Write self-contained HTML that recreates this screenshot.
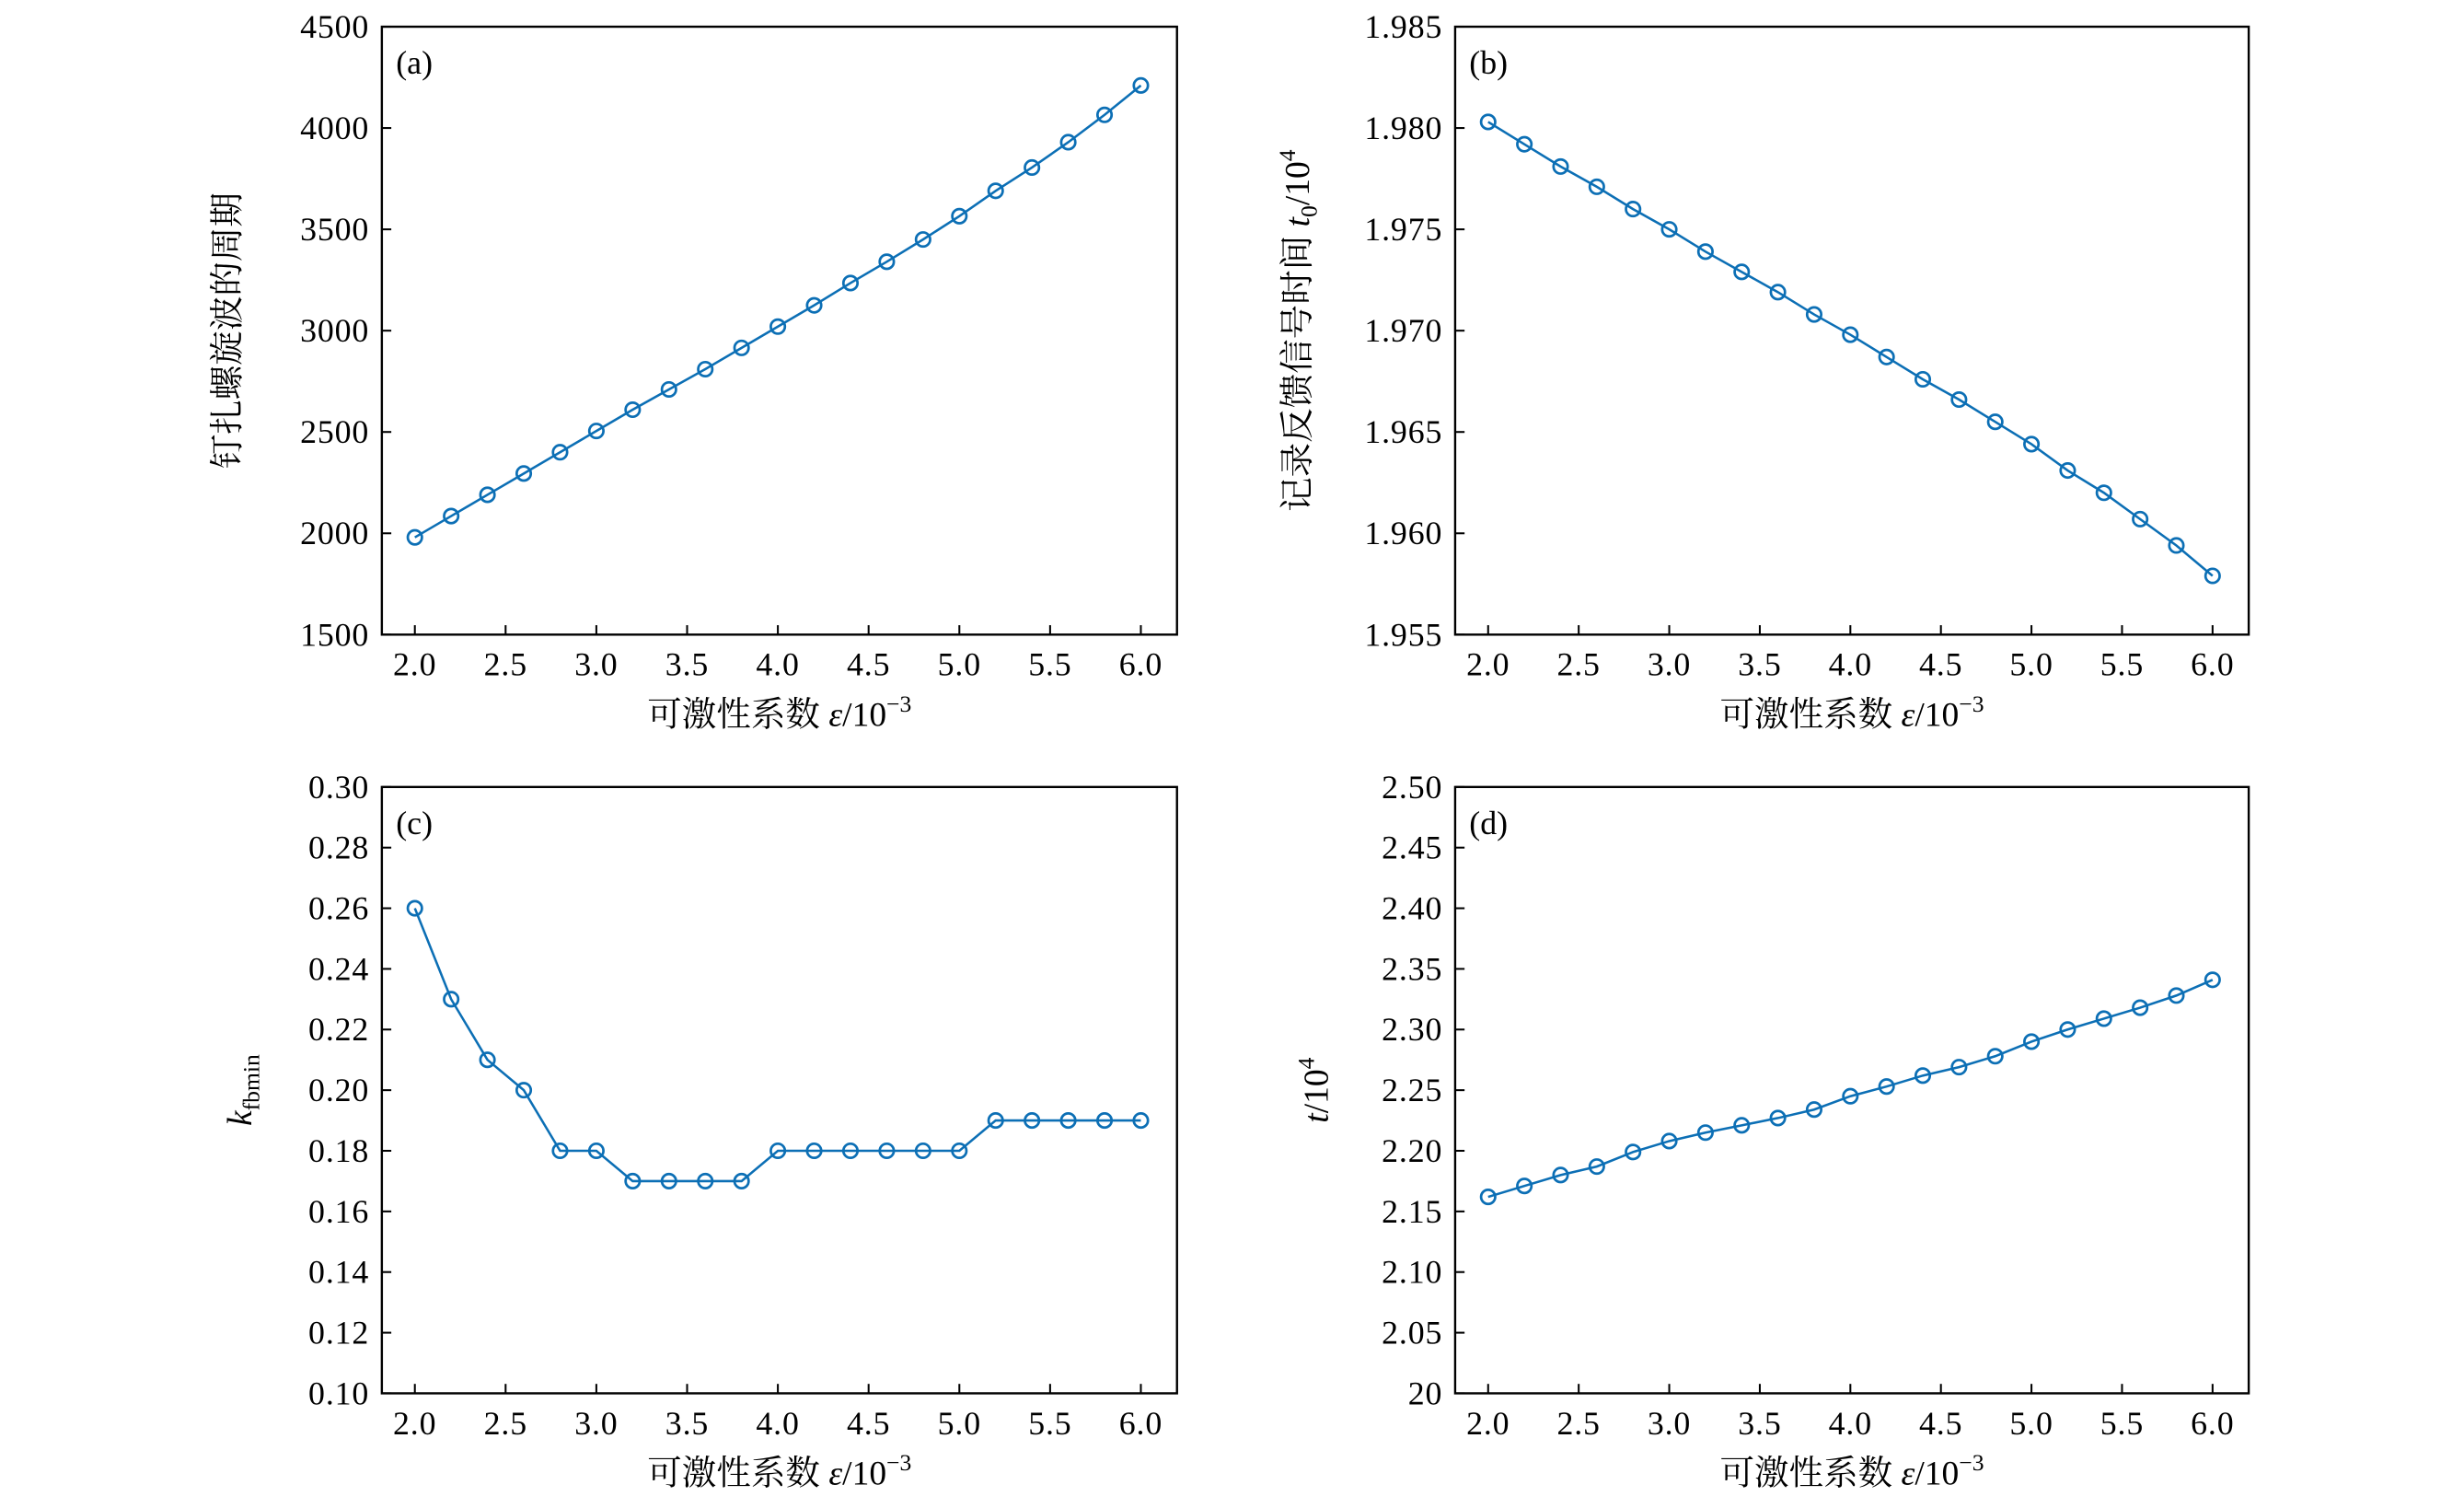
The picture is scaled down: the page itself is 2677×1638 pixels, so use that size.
<!DOCTYPE html>
<html><head><meta charset="utf-8"><style>
html,body{margin:0;padding:0;background:#fff;}
svg{display:block;}
text{font-family:"Liberation Serif","Noto Serif CJK SC",serif;fill:#000;}
</style></head><body>
<svg id="fig" width="2677" height="1638" viewBox="0 0 1568 960" preserveAspectRatio="none" xmlns="http://www.w3.org/2000/svg"></svg>
<script>
const xsValues = [2.0,2.2,2.4,2.6,2.8,3.0,3.2,3.4,3.6,3.8,4.0,4.2,4.4,4.6,4.8,5.0,5.2,5.4,5.6,5.8,6.0];
const xTicks = [2.0,2.5,3.0,3.5,4.0,4.5,5.0,5.5,6.0];
const xTickLabels = ["2.0","2.5","3.0","3.5","4.0","4.5","5.0","5.5","6.0"];
const seriesA = [1980,2085,2190,2295,2400,2505,2610,2710,2810,2915,3020,3125,3235,3340,3450,3565,3690,3805,3930,4065,4210];
const seriesB = [1.9803,1.9792,1.9781,1.9771,1.9760,1.9750,1.9739,1.9729,1.9719,1.9708,1.9698,1.9687,1.9676,1.9666,1.9655,1.9644,1.9631,1.9620,1.9607,1.9594,1.9579];
const seriesC = [0.26,0.23,0.21,0.20,0.18,0.18,0.17,0.17,0.17,0.17,0.18,0.18,0.18,0.18,0.18,0.18,0.19,0.19,0.19,0.19,0.19];
const seriesD = [2.162,2.171,2.180,2.187,2.199,2.208,2.215,2.221,2.227,2.234,2.245,2.253,2.262,2.269,2.278,2.290,2.300,2.309,2.318,2.328,2.341];
const yTicksA = [1500,2000,2500,3000,3500,4000,4500];
const yLabelsA = ["1500","2000","2500","3000","3500","4000","4500"];
const yTicksB = [1.955,1.960,1.965,1.970,1.975,1.980,1.985];
const yLabelsB = ["1.955","1.960","1.965","1.970","1.975","1.980","1.985"];
const yTicksC = [0.10,0.12,0.14,0.16,0.18,0.20,0.22,0.24,0.26,0.28,0.30];
const yLabelsC = ["0.10","0.12","0.14","0.16","0.18","0.20","0.22","0.24","0.26","0.28","0.30"];
const yTicksD = [2.00,2.05,2.10,2.15,2.20,2.25,2.30,2.35,2.40,2.45,2.50];
const yLabelsD = ["20","2.05","2.10","2.15","2.20","2.25","2.30","2.35","2.40","2.45","2.50"];

const NS="http://www.w3.org/2000/svg";
const svg=document.getElementById('fig');
function mk(tag,attrs,parent){const e=document.createElementNS(NS,tag);for(const k in attrs)e.setAttribute(k,attrs[k]);(parent||svg).appendChild(e);return e;}

const panels=[
 {id:'a',L:243,R:749,T:17,B:404,ymin:1500,ymax:4500,data:seriesA,yt:yTicksA,yl:yLabelsA,ylab:'钉扎螺旋波的周期',ylx:152},
 {id:'b',L:926,R:1431,T:17,B:404,ymin:1.955,ymax:1.985,data:seriesB,yt:yTicksB,yl:yLabelsB,ylab:'b',ylx:833},
 {id:'c',L:243,R:749,T:501,B:887,ymin:0.10,ymax:0.30,data:seriesC,yt:yTicksC,yl:yLabelsC,ylab:'c',ylx:160},
 {id:'d',L:926,R:1431,T:501,B:887,ymin:2.00,ymax:2.50,data:seriesD,yt:yTicksD,yl:yLabelsD,ylab:'d',ylx:845}
];
panels.forEach(p=>{
  const g=mk('g',{});
  
  
  const xL=p.L+21, xR=p.R-23;
  const sx=v=>xL+(v-2)/(6-2)*(xR-xL);
  const sy=v=>p.B-(v-p.ymin)/(p.ymax-p.ymin)*(p.B-p.T);
  const frame=mk('rect',{x:p.L,y:p.T,width:p.R-p.L,height:p.B-p.T,fill:'none',stroke:'#000','stroke-width':1.4},g);
  
  
  xTicks.forEach((v,i)=>{
    mk('line',{x1:sx(v),x2:sx(v),y1:p.B,y2:p.B-6,stroke:'#000','stroke-width':1.2},g);
    const t=mk('text',{x:sx(v),y:p.B+26,'text-anchor':'middle','font-size':21,'letter-spacing':0.5},g);
    t.textContent=xTickLabels[i];
    
    
  });
  p.yt.forEach((v,i)=>{
    mk('line',{x1:p.L,x2:p.L+6,y1:sy(v),y2:sy(v),stroke:'#000','stroke-width':1.2},g);
    const t=mk('text',{x:p.L-8,y:sy(v)+7,'text-anchor':'end','font-size':21,'letter-spacing':0.5},g);
    t.textContent=p.yl[i];
    
    
  });
  const pts=p.data.map((v,i)=>sx(xsValues[i])+','+sy(v)).join(' ');
  const line=mk('polyline',{points:pts,fill:'none',stroke:'#0c6fb5','stroke-width':1.5},g);
  
  
  p.data.forEach((v,i)=>{
    const c=mk('circle',{cx:sx(xsValues[i]),cy:sy(v),r:4.5,fill:'none',stroke:'#0c6fb5','stroke-width':1.6},g);
    
    
  });
  const pl=mk('text',{x:p.L+9,y:p.T+30,'font-size':21},g);
  pl.textContent='('+p.id+')';
  
  
  const xl=mk('text',{x:(p.L+p.R)/2,y:p.B+58,'text-anchor':'middle','font-size':22},g);
  xl.innerHTML='可激性系数 <tspan font-style="italic">ε</tspan>/10<tspan font-size="15" dy="-9">−3</tspan>';
  
  
  const cy=(p.T+p.B)/2;
  const yl=mk('text',{x:p.ylx,y:cy,'text-anchor':'middle','font-size':22,transform:`rotate(-90 ${p.ylx} ${cy})`},g);
  if(p.id==='a') yl.textContent=p.ylab;
  else if(p.id==='b') yl.innerHTML='记录反馈信号时间 <tspan font-style="italic">t</tspan><tspan font-size="15" dy="5">0</tspan><tspan dy="-5">/10</tspan><tspan font-size="15" dy="-9">4</tspan>';
  else if(p.id==='c') yl.innerHTML='<tspan font-style="italic">k</tspan><tspan font-size="15" dy="5">fbmin</tspan>';
  else yl.innerHTML='<tspan font-style="italic">t</tspan>/10<tspan font-size="15" dy="-9">4</tspan>';
  
  
});
</script>
</body></html>
